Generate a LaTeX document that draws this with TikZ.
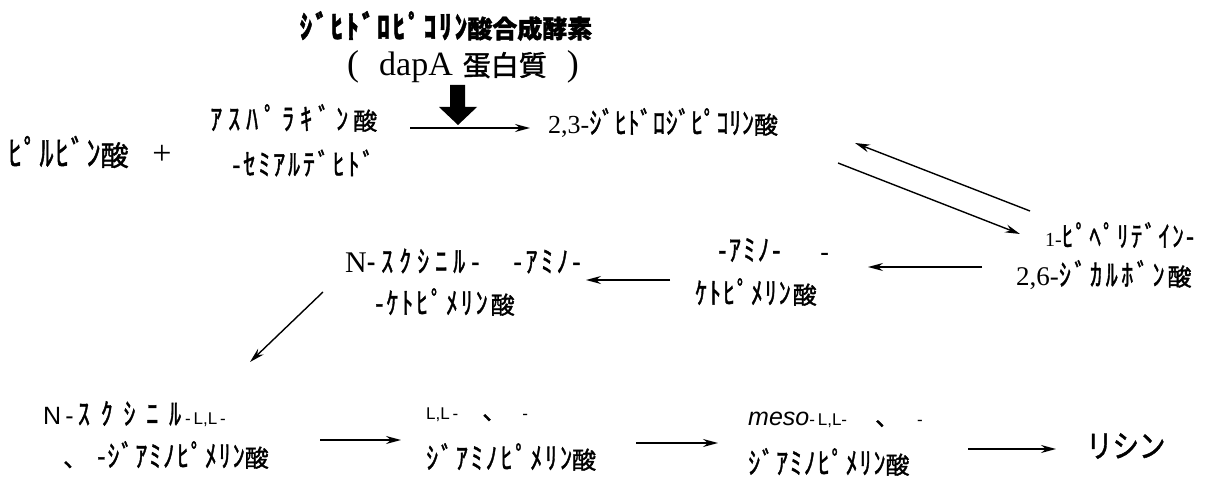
\documentclass[tikz,border=0pt]{standalone}
\usepackage{fontspec}
\setmainfont{Liberation Serif}
\newfontfamily\jp[FakeBold=1.5]{Noto Sans CJK JP}
\newfontfamily\sa{Liberation Sans}
\usetikzlibrary{arrows.meta}
% letter-spaced halfwidth run, stretched vertically to kanji height
\newcommand\K[2]{\scalebox{1}[1.25]{\addfontfeature{LetterSpace=#1}#2}}
\newcommand\sr[2]{{\rmfamily\fontsize{#1}{#1}\selectfont #2}}
\newcommand\sn[2]{{\sa\fontsize{#1}{#1}\selectfont #2}}
\tikzset{
  lbl/.style={inner sep=0pt, anchor=west, font=\jp\fontsize{24}{24}\selectfont},
  rx/.style={-{Stealth[length=15pt,width=8pt,inset=5pt]}, line width=1.4pt},
}
\begin{document}
\begin{tikzpicture}[x=1pt,y=-1pt]
\useasboundingbox (0,0) rectangle (1210,481);
% enzyme
\node[inner sep=0pt, font=\jp\bfseries\fontsize{25}{25}\selectfont] (enz) at (446,26) {\K{12}{ｼﾞﾋﾄﾞﾛﾋﾟｺﾘﾝ}酸合成酵素};
\node[inner sep=0pt, font=\jp\fontsize{28}{28}\selectfont] (dapa) at (463,67) {\sr{36}{(}\hspace{20pt}\sr{34}{dapA}\hspace{10pt}蛋白質\hspace{20pt}\sr{36}{)}};
\fill (450,85) -- (465,85) -- (465,107) -- (477,107) -- (458,125) -- (439,107) -- (450,107) -- cycle;
% row 1
\node[lbl, font=\jp\fontsize{28}{28}\selectfont] (pyr) at (8,152) {\K{6}{ﾋﾟﾙﾋﾞﾝ}酸};
\node[inner sep=0pt, font=\rmfamily\fontsize{34}{34}\selectfont] (plus) at (162,155) {+};
\node[lbl] (asp1) at (210,118) {\K{25}{ｱｽﾊﾟﾗｷﾞﾝ}\hspace{5pt}酸};
\node[lbl] (asp2) at (232,163) {\K{12}{-ｾﾐｱﾙﾃﾞﾋﾄﾞ}};
\node[lbl] (dhdp) at (548,123) {\sr{26}{2,3-}\K{3}{ｼﾞﾋﾄﾞﾛｼﾞﾋﾟｺﾘﾝ}酸};
\coordinate (r1s) at (410,128);
\coordinate (r1e) at (530,128);
\draw[rx] (r1s) -- (r1e);
% piperideine
\node[lbl, font=\jp\fontsize{23}{23}\selectfont] (pip1) at (1045,235) {\sr{20}{1-}\K{10}{ﾋﾟﾍﾟﾘﾃﾞｲﾝ-}};
\node[lbl] (pip2) at (1016,275) {\sr{27}{2,6-}\K{15}{ｼﾞｶﾙﾎﾞﾝ}\hspace{3pt}酸};
\coordinate (u1) at (1030,211);
\coordinate (u2) at (855,143);
\coordinate (d1) at (838,163);
\coordinate (d2) at (1020,234);
\draw[rx] (u1) -- (u2);
\draw[rx] (d1) -- (d2);
% amino keto
\node[lbl] (ak1) at (718,250) {\K{10}{-ｱﾐﾉ-}\hspace{40pt}-};
\node[lbl] (ak2) at (695,292) {\K{8}{ｹﾄﾋﾟﾒﾘﾝ}\hspace{2pt}酸};
\coordinate (p1) at (982,267);
\coordinate (p2) at (868,267);
\draw[rx] (p1) -- (p2);
% succinyl keto
\node[lbl] (sak1) at (345,261) {\sr{30}{N}\K{25}{-ｽｸｼﾆﾙ-}\hspace{34pt}\K{15}{-ｱﾐﾉ-}};
\node[lbl] (sak2) at (375,302) {\K{12}{-ｹﾄﾋﾟﾒﾘﾝ}\hspace{3pt}酸};
\coordinate (k1) at (670,280);
\coordinate (k2) at (586,280);
\draw[rx] (k1) -- (k2);
\coordinate (g1) at (323,292);
\coordinate (g2) at (250,362);
\draw[rx] (g1) -- (g2);
% bottom row
\node[lbl] (sd1) at (43,414) {\sn{25}{N\,-\,}\K{45}{ｽｸｼﾆﾙ}\hspace{4pt}\sn{17}{-\,L,L\,-}};
\node[lbl] (sd2) at (63,455) {、\hspace{10pt}\K{8}{-ｼﾞｱﾐﾉﾋﾟﾒﾘﾝ}酸};
\node[lbl] (ll1) at (426,415) {\sn{17}{L,L\,-}\hspace{24pt}、\hspace{16pt}\sn{17}{-}};
\node[lbl] (ll2) at (426,457) {\K{12}{ｼﾞｱﾐﾉﾋﾟﾒﾘﾝ}酸};
\node[lbl] (ms1) at (748,420) {\sn{25}{\itshape meso}\sn{17}{-\,L,L-}\hspace{28pt}、\hspace{18pt}\sn{17}{-}};
\node[lbl] (ms2) at (748,462) {\K{8}{ｼﾞｱﾐﾉﾋﾟﾒﾘﾝ}酸};
\node[lbl, font=\jp\fontsize{30}{30}\selectfont] (lys) at (1086,446) {\scalebox{0.88}[1.05]{リシン}};
\coordinate (b1) at (320,440);
\coordinate (b2) at (401,440);
\coordinate (c1) at (636,443);
\coordinate (c2) at (718,443);
\coordinate (e1) at (968,449);
\coordinate (e2) at (1056,449);
\draw[rx] (b1) -- (b2);
\draw[rx] (c1) -- (c2);
\draw[rx] (e1) -- (e2);
\end{tikzpicture}
\end{document}
